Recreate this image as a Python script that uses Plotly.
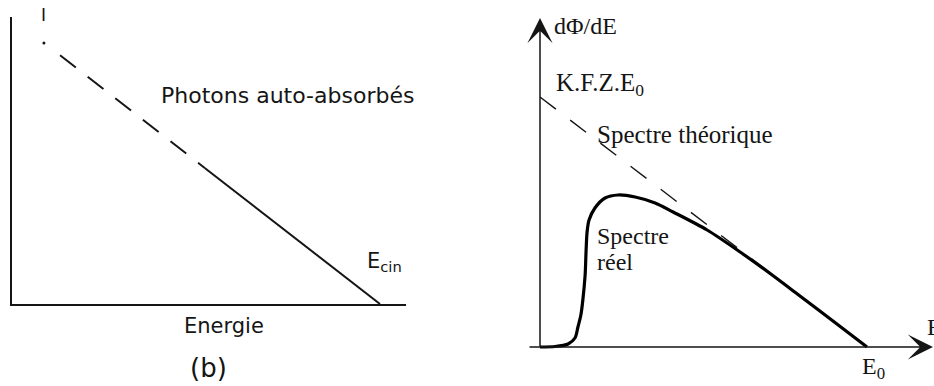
import plotly.graph_objects as go

# ---- data -------------------------------------------------------------
# (b) self-absorbed photons: straight-line intensity vs energy
auto_abs_E_start = [0.081]
auto_abs_I_start = [0.909]
auto_abs_E_dashed = [0.122, 0.49]
auto_abs_I_dashed = [0.867, 0.473]
auto_abs_E_solid = [0.49, 0.934]
auto_abs_I_solid = [0.473, 0.0]

# Bremsstrahlung spectrum: theoretical (Kramers) and real
theo_E = [0.0, 1.0]
theo_I = [1.0, 0.0]
real_E = [0.0, 0.046, 0.086, 0.107, 0.116, 0.125, 0.131, 0.138, 0.141, 0.144,
          0.150, 0.168, 0.199, 0.239, 0.291, 0.352, 0.407, 0.511, 0.612, 0.713,
          0.795, 0.90, 1.0]
real_I = [0.0, 0.002, 0.012, 0.036, 0.080, 0.128, 0.188, 0.288, 0.388, 0.460,
          0.508, 0.556, 0.596, 0.608, 0.600, 0.576, 0.540, 0.468, 0.380, 0.285,
          0.204, 0.100, 0.0]

# ---- page geometry ----------------------------------------------------
W, H = 934, 386
SANS = "DejaVu Sans"
SERIF = "Liberation Serif, Times New Roman, serif"
INK = "#151515"


def px(x, y):
    """Pixel position -> paper coordinates."""
    return x / W, 1 - y / H


fig = go.Figure()

# left panel traces
fig.add_trace(go.Scatter(x=auto_abs_E_start, y=auto_abs_I_start, mode="markers",
                         marker=dict(color=INK, size=3),
                         xaxis="x", yaxis="y", hoverinfo="skip"))
fig.add_trace(go.Scatter(x=auto_abs_E_dashed, y=auto_abs_I_dashed, mode="lines",
                         line=dict(color=INK, width=2.0, dash="20px,15px"),
                         xaxis="x", yaxis="y", hoverinfo="skip"))
fig.add_trace(go.Scatter(x=auto_abs_E_solid, y=auto_abs_I_solid, mode="lines",
                         line=dict(color=INK, width=2.0),
                         xaxis="x", yaxis="y", hoverinfo="skip"))

# right panel traces
fig.add_trace(go.Scatter(x=theo_E, y=theo_I, mode="lines",
                         line=dict(color=INK, width=1.4, dash="20px,18px"),
                         xaxis="x2", yaxis="y2", hoverinfo="skip"))
fig.add_trace(go.Scatter(x=real_E, y=real_I, mode="lines",
                         line=dict(color="black", width=3.2, shape="spline", smoothing=0.8),
                         xaxis="x2", yaxis="y2", hoverinfo="skip"))

# right panel: E in units of E0 (540 px -> 0, 867 px -> 1),
# intensity in units of K.F.Z.E0 (347 px -> 0, 97 px -> 1)
x2_lo = (520 - 540) / 327
x2_hi = (W - 540) / 327
y2_lo = -(H - 347) / 250
y2_hi = 347 / 250

axis_off = dict(showgrid=False, zeroline=False, showticklabels=False, ticks="")

fig.update_layout(
    width=W, height=H,
    margin=dict(l=0, r=0, t=0, b=0),
    paper_bgcolor="white", plot_bgcolor="rgba(0,0,0,0)",
    showlegend=False,
    font=dict(family=SANS, color=INK),
    xaxis=dict(domain=[12 / W, 406 / W], range=[0, 1], showline=True,
               linecolor=INK, linewidth=1.6, anchor="y", **axis_off),
    yaxis=dict(domain=[1 - 304 / H, 1 - 17 / H], range=[0, 1], showline=True,
               linecolor=INK, linewidth=1.6, anchor="x", **axis_off),
    xaxis2=dict(domain=[520 / W, 1], range=[x2_lo, x2_hi], showline=False,
                anchor="y2", **axis_off),
    yaxis2=dict(domain=[0, 1], range=[y2_lo, y2_hi], showline=False,
                anchor="x2", **axis_off),
)

# axes with arrowheads for the spectrum panel
arrow = dict(xref="x2", yref="y2", axref="x2", ayref="y2", text="",
             showarrow=True, arrowhead=3, arrowwidth=1.5, arrowsize=2.8,
             arrowcolor=INK)
fig.add_annotation(x=0, y=(347 - 18) / 250, ax=0, ay=-0.004, **arrow)
fig.add_annotation(x=(933 - 540) / 327, y=0, ax=(528 - 540) / 327, ay=0, **arrow)


def label(text, x, y, size, family, xanchor="left", yanchor="middle"):
    xp, yp = px(x, y)
    fig.add_annotation(x=xp, y=yp, xref="paper", yref="paper", text=text,
                       showarrow=False, xanchor=xanchor, yanchor=yanchor,
                       font=dict(family=family, size=size, color=INK))


# left panel labels
label("I", 43, 15, 17, SANS, xanchor="center")
label("Photons auto-absorbés", 159, 95, 22, SANS)
label("E<sub>cin</sub>", 365, 262, 21, SANS)
label("Energie", 224, 326, 21, SANS, xanchor="center")
label("(b)", 208, 368, 26, SANS, xanchor="center")

# right panel labels
label("dΦ/dE", 552, 26, 24, SERIF)
label("K.F.Z.E<sub>0</sub>", 554, 84, 25, SERIF)
label("Spectre théorique", 595, 134, 25, SERIF)
label("Spectre", 595, 236, 24, SERIF)
label("réel", 595, 262, 24, SERIF)
label("E<sub>0</sub>", 860, 368, 24, SERIF)
label("E", 925, 327, 24, SERIF)

fig.write_html("out.html", config={"displayModeBar": False})
